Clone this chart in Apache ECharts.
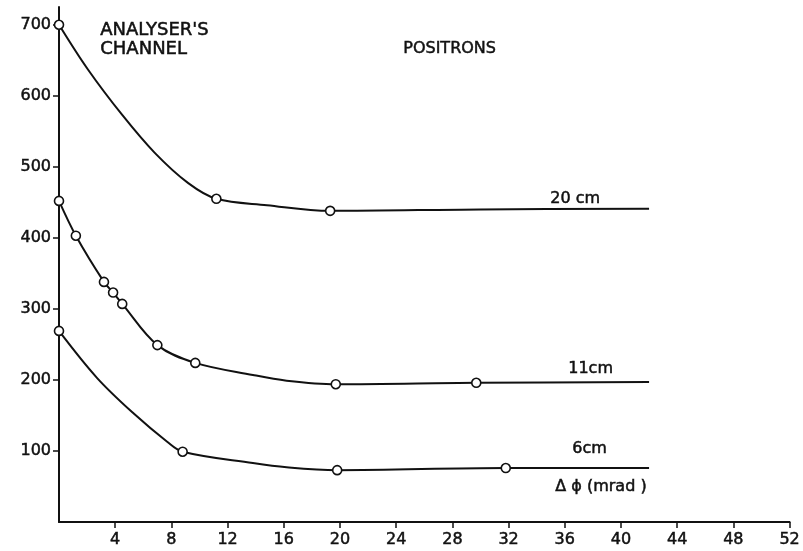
<!DOCTYPE html>
<html>
<head>
<meta charset="utf-8">
<title>Analyser's channel - positrons</title>
<script src="https://cdn.jsdelivr.net/npm/echarts@6/dist/echarts.min.js"></script>
<style>
  html, body { margin: 0; padding: 0; background: #fff; }
  #chart { width: 803px; height: 551px; }
</style>
</head>
<body>
<div id="chart"></div>
<script>
// tick labels
var xTicks = [4, 8, 12, 16, 20, 24, 28, 32, 36, 40, 44, 48, 52]
var yTicks = [100, 200, 300, 400, 500, 600, 700]

// curves [delta phi (mrad), counts]
var curve20 = [[0, 700], [2.06, 637], [4.5, 573], [6.8, 520], [9.2, 477], [11.2, 455],
  [14.8, 446], [19.3, 438], [30, 440], [42, 441]]
var curve11 = [[0, 452], [1.2, 403], [3.2, 338], [3.85, 323], [4.5, 307], [7.0, 249],
  [9.7, 224], [13.8, 207], [16.2, 199], [19.7, 194], [29.7, 196], [42, 197]]
var curve6 = [[0, 269], [2.7, 203], [5.3, 153], [7.7, 113], [8.8, 99],
  [13.8, 83], [16.2, 77], [19.8, 73], [31.8, 76], [42, 76]]

// measured points (open circles)
var points20 = [[0, 700], [11.2, 455], [19.3, 438]]
var points11 = [[0, 452], [1.2, 403], [3.2, 338], [3.85, 323], [4.5, 307], [7.0, 249],
  [9.7, 224], [19.7, 194], [29.7, 196]]
var points6 = [[0, 269], [8.8, 99], [19.8, 73], [31.8, 76]]

var font = '"DejaVu Sans", "Liberation Sans", sans-serif'
var ink = '#111'

function curve(data) {
  return {
    type: 'line',
    data: data,
    smooth: 0.35,
    showSymbol: false,
    silent: true,
    lineStyle: { color: ink, width: 2 },
    z: 2
  }
}

function dots(data) {
  return {
    type: 'scatter',
    data: data,
    symbol: 'circle',
    symbolSize: 9,
    silent: true,
    itemStyle: { color: '#fff', opacity: 1, borderColor: ink, borderWidth: 1.6 },
    z: 3
  }
}

function note(text, x, y, size) {
  return {
    type: 'text',
    left: x,
    top: y,
    style: {
      text: text,
      font: (size || 16) + 'px ' + font,
      fill: ink,
      stroke: ink,
      lineWidth: 0.5,
      lineHeight: 19
    }
  }
}

var chartDom = document.getElementById('chart')
var myChart = echarts.init(chartDom)

var tickText = {
  color: ink,
  fontSize: 16,
  fontFamily: font,
  textBorderColor: ink,
  textBorderWidth: 0.5
}

var option = {
  backgroundColor: '#fff',
  animation: false,
  grid: { left: 59, right: 13, top: 7, bottom: 29 },
  xAxis: {
    type: 'value',
    min: 0,
    max: 52,
    splitLine: { show: false },
    axisLine: { lineStyle: { color: ink, width: 2 } },
    axisTick: { customValues: xTicks, length: 6, lineStyle: { color: ink, width: 1.5 } },
    axisLabel: Object.assign({ customValues: xTicks, margin: 10 }, tickText)
  },
  yAxis: {
    type: 'value',
    min: 0,
    max: 725,
    splitLine: { show: false },
    axisLine: { lineStyle: { color: ink, width: 2 } },
    axisTick: { customValues: yTicks, length: 6, lineStyle: { color: ink, width: 1.5 } },
    axisLabel: Object.assign({ customValues: yTicks, margin: 8 }, tickText)
  },
  graphic: [
    note("ANALYSER'S\nCHANNEL", 100, 21, 18),
    note('POSITRONS', 403, 39, 16),
    note('20 cm', 550, 189),
    note('11cm', 568, 359),
    note('6cm', 572, 439),
    note('\u0394 \u03d5 (mrad )', 555, 477)
  ],
  series: [
    curve(curve20), curve(curve11), curve(curve6),
    dots(points20), dots(points11), dots(points6)
  ]
}

option && myChart.setOption(option)
</script>
</body>
</html>
